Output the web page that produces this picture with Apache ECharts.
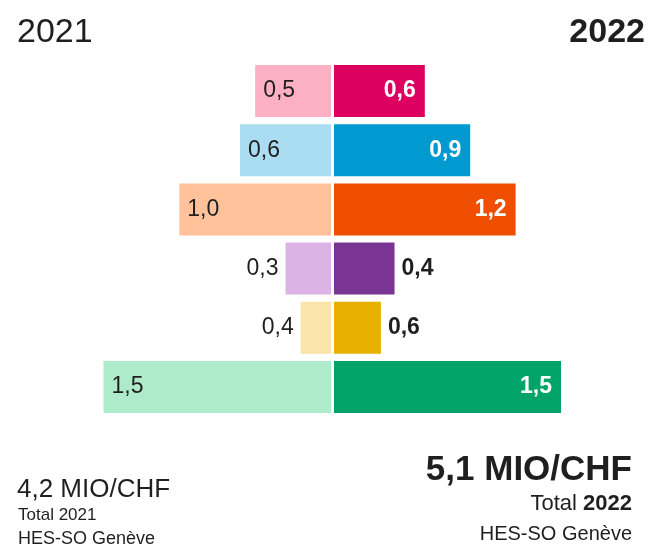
<!DOCTYPE html>
<html>
<head>
<meta charset="utf-8">
<script src="https://cdn.jsdelivr.net/npm/echarts@6/dist/echarts.min.js"></script>
<style>
html,body{margin:0;padding:0;background:#fff;}
#chart{width:648px;height:546px;}
</style>
</head>
<body>
<div id="chart"></div>
<script>
// Data (bar lengths as drawn in the picture; printed labels kept separately)
var categories = ['A', 'B', 'C', 'D', 'E', 'F'];
var values2021 = [0.5, 0.6, 1.0, 0.3, 0.2, 1.5];
var values2022 = [0.6, 0.9, 1.2, 0.4, 0.31, 1.5];
var labels2021 = ['0,5', '0,6', '1,0', '0,3', '0,4', '1,5'];
var labels2022 = ['0,6', '0,9', '1,2', '0,4', '0,6', '1,5'];
var colors2021 = ['#FBB1C3', '#ABDDF2', '#FFC29A', '#DDB3E5', '#FBE4AA', '#AEEBCA'];
var colors2022 = ['#DE0060', '#0099D0', '#F04E00', '#7A3494', '#E8B000', '#00A46A'];
var yearLeft = '2021';
var yearRight = '2022';
var totalLeft = '4,2 MIO/CHF';
var totalRight = '5,1 MIO/CHF';
var subLeft = 'Total 2021';
var subRightA = 'Total ';
var subRightB = '2022';
var org = 'HES-SO Genève';

var FONT = '"Liberation Sans", Arial, Helvetica, sans-serif';
var DARK = '#1f1f1f';

var leftData = values2021.map(function (v, i) {
  var inside = v >= 0.5;
  return {
    value: v,
    itemStyle: { color: colors2021[i] },
    label: {
      show: true,
      formatter: labels2021[i],
      position: inside ? 'insideLeft' : 'left',
      distance: inside ? 8 : 7,
      color: DARK,
      fontSize: 23,
      fontFamily: FONT
    }
  };
});
var rightData = values2022.map(function (v, i) {
  var inside = v >= 0.5;
  return {
    value: v,
    itemStyle: { color: colors2022[i] },
    label: {
      show: true,
      formatter: labels2022[i],
      position: inside ? 'insideRight' : 'right',
      distance: inside ? 9 : 7,
      color: inside ? '#ffffff' : DARK,
      fontWeight: 'bold',
      fontSize: 23,
      fontFamily: FONT
    }
  };
});

var chart = echarts.init(document.getElementById('chart'), null, { renderer: 'canvas' });
var gridTop = 61.4, gridH = 355.2;
chart.setOption({
  animation: false,
  backgroundColor: '#ffffff',
  grid: [
    { left: 103.5, top: gridTop, width: 227.5, height: gridH },
    { left: 334, top: gridTop, width: 227, height: gridH }
  ],
  xAxis: [
    { type: 'value', gridIndex: 0, min: 0, max: 1.5, inverse: true, show: false },
    { type: 'value', gridIndex: 1, min: 0, max: 1.5, show: false }
  ],
  yAxis: [
    { type: 'category', gridIndex: 0, data: categories, inverse: true, show: false },
    { type: 'category', gridIndex: 1, data: categories, inverse: true, show: false }
  ],
  series: [
    { type: 'bar', xAxisIndex: 0, yAxisIndex: 0, barWidth: 52, data: leftData },
    { type: 'bar', xAxisIndex: 1, yAxisIndex: 1, barWidth: 52, data: rightData }
  ],
  graphic: [
    { type: 'text', left: 17, top: 16, style: { text: yearLeft, font: '34px ' + FONT, fill: DARK } },
    { type: 'text', right: 3, top: 16, style: { text: yearRight, font: 'bold 34px ' + FONT, fill: DARK } },
    { type: 'text', left: 17, top: 477, style: { text: totalLeft, font: '26px ' + FONT, fill: DARK } },
    { type: 'text', left: 18, top: 507, style: { text: subLeft, font: '17px ' + FONT, fill: DARK } },
    { type: 'text', left: 18, top: 530, style: { text: org, font: '18px ' + FONT, fill: DARK } },
    { type: 'text', right: 16, top: 453, style: { text: totalRight, font: 'bold 35px ' + FONT, fill: DARK } },
    { type: 'text', right: 16, top: 493, style: {
        text: '{a|' + subRightA + '}{b|' + subRightB + '}',
        rich: {
          a: { fontSize: 22, fontFamily: FONT, fill: DARK },
          b: { fontSize: 22, fontFamily: FONT, fill: DARK, fontWeight: 'bold' }
        }
      } },
    { type: 'text', right: 16, top: 524, style: { text: org, font: '20px ' + FONT, fill: DARK } }
  ]
});
</script>
</body>
</html>
